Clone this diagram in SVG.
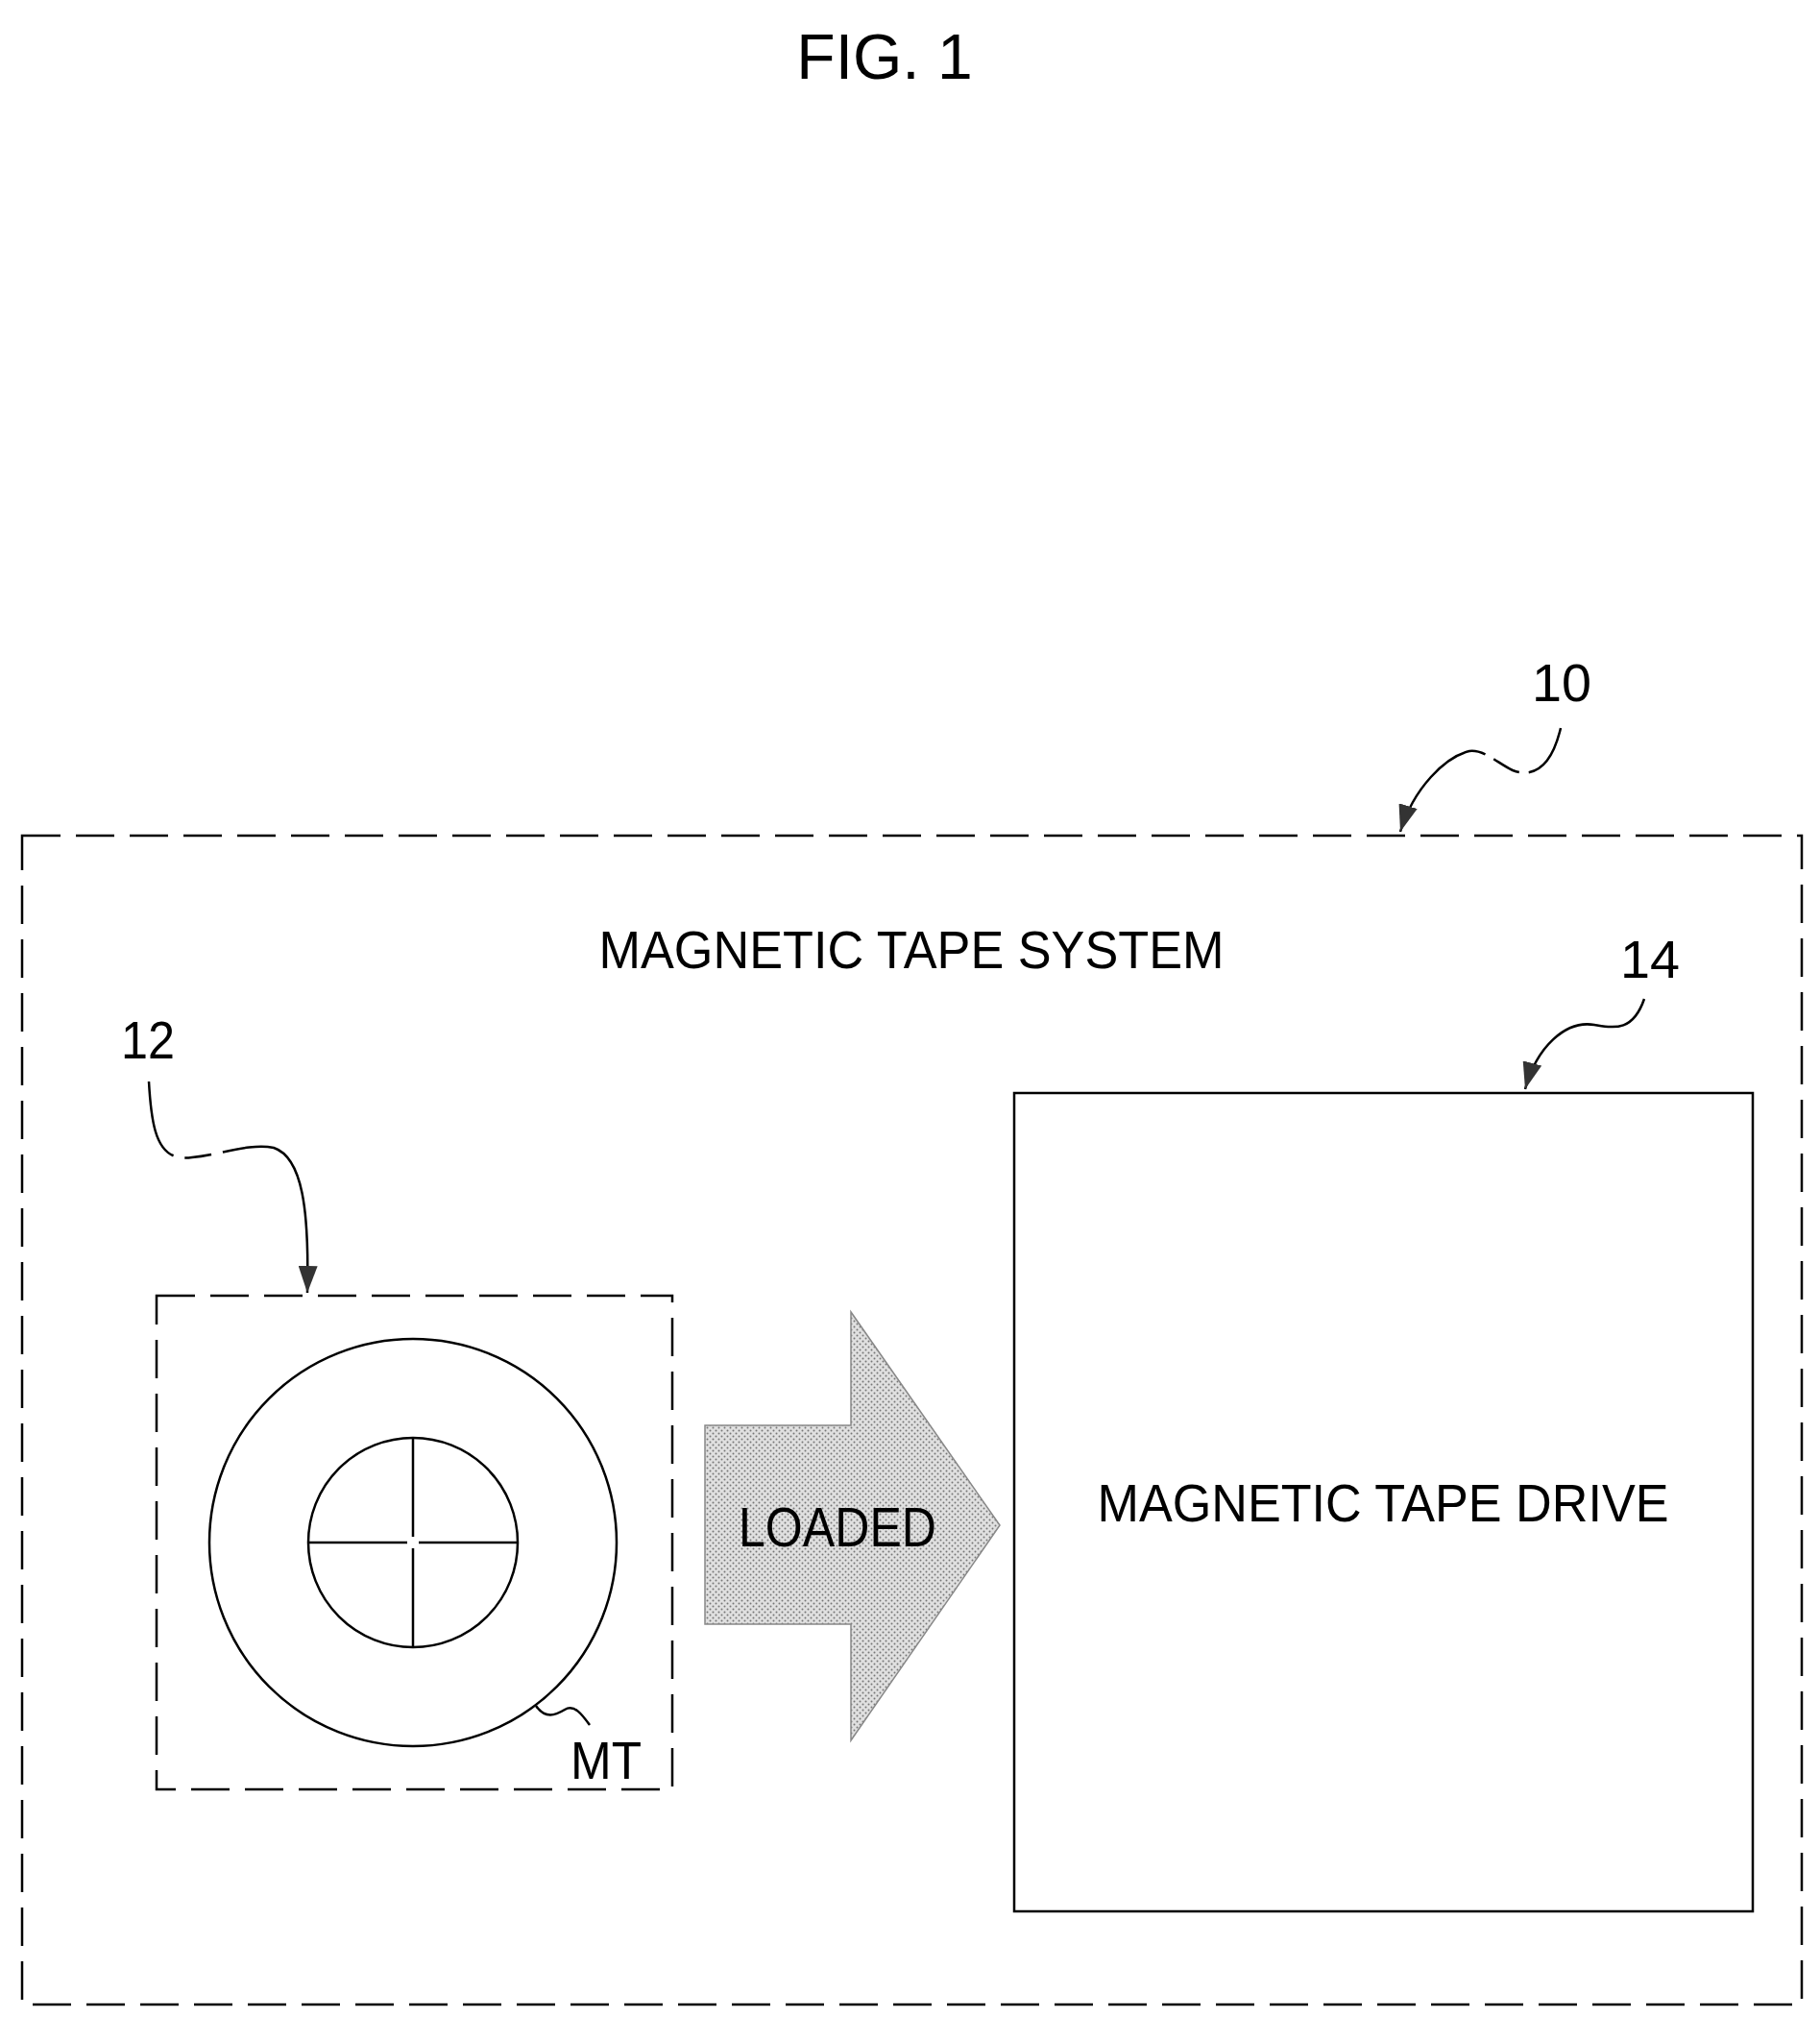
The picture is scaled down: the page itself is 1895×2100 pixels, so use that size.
<svg xmlns="http://www.w3.org/2000/svg" width="1895" height="2100" viewBox="0 0 1895 2100">
<style>
.t{font-family:"Liberation Sans",Arial,sans-serif;fill:#000}
.ln{fill:none;stroke:#000;stroke-width:2.5}
.ds{fill:none;stroke:#000;stroke-width:2.5;stroke-dasharray:40 16}
</style>
<defs>
<marker id="ah" markerWidth="28" markerHeight="20" refX="28" refY="10" orient="auto" markerUnits="userSpaceOnUse" viewBox="0 0 28 20"><path d="M0,0 L28,10 L0,20 Z" fill="#333"/></marker>
<pattern id="dots" width="6" height="6" patternUnits="userSpaceOnUse"><rect width="6" height="6" fill="#e0e0e0"/><circle cx="1.5" cy="1.5" r="1" fill="#777"/><circle cx="4.5" cy="4.5" r="1" fill="#777"/></pattern>
</defs>
<rect width="1895" height="2100" fill="#fff"/>
<text class="t" x="921" y="82" font-size="66" text-anchor="middle">FIG. 1</text>
<g id="system">
<rect class="ds" x="23" y="870" width="1853" height="1217"/>
<text class="t" x="949" y="1008" font-size="56" text-anchor="middle" textLength="651" lengthAdjust="spacingAndGlyphs">MAGNETIC TAPE SYSTEM</text>
<text class="t" x="1626" y="730" font-size="56" text-anchor="middle" textLength="62" lengthAdjust="spacingAndGlyphs">10</text>
</g>
<g id="drive">
<rect class="ln" x="1056" y="1138" width="769" height="852"/>
<text class="t" x="1440" y="1584" font-size="56" text-anchor="middle" textLength="595" lengthAdjust="spacingAndGlyphs">MAGNETIC TAPE DRIVE</text>
<text class="t" x="1718" y="1018" font-size="56" text-anchor="middle" textLength="62" lengthAdjust="spacingAndGlyphs">14</text>
</g>
<g id="cartridge">
<rect class="ds" x="163" y="1349" width="537" height="514"/>
<circle class="ln" cx="430" cy="1606" r="212"/>
<circle class="ln" cx="430" cy="1606" r="109"/>
<path class="ln" d="M430 1497 V1600 M430 1612 V1715 M321 1606 H424 M436 1606 H539"/>
<text class="t" x="154" y="1102" font-size="56" text-anchor="middle" textLength="56" lengthAdjust="spacingAndGlyphs">12</text>
<text class="t" x="631" y="1852" font-size="56" text-anchor="middle" textLength="74" lengthAdjust="spacingAndGlyphs">MT</text>
</g>
<g id="loaded">
<path d="M734 1484 H886 V1366 L1041 1588 L886 1812 V1691 H734 Z" fill="url(#dots)" stroke="#888" stroke-width="1.5"/>
<text class="t" x="872" y="1610" font-size="58" text-anchor="middle" textLength="206" lengthAdjust="spacingAndGlyphs">LOADED</text>
</g>
<g id="connectors">
<path class="ln" d="M1625 758 C1615 800 1595 810 1575 802 C1560 795 1545 780 1530 782 C1505 788 1472 820 1458 866" stroke-dasharray="60 10 30 10 200" marker-end="url(#ah)"/>
<path class="ln" d="M1712 1040 C1700 1075 1680 1070 1660 1067 C1630 1062 1600 1090 1588 1134" marker-end="url(#ah)"/>
<path class="ln" d="M155 1126 C158 1180 165 1210 200 1205 C230 1202 260 1190 285 1195 C315 1205 322 1260 320 1346" stroke-dasharray="85 12 28 12 400" marker-end="url(#ah)"/>
<path class="ln" d="M558 1776 C568 1790 578 1786 588 1780 C598 1774 606 1785 614 1796" stroke-width="1.5"/>
</g>
</svg>
